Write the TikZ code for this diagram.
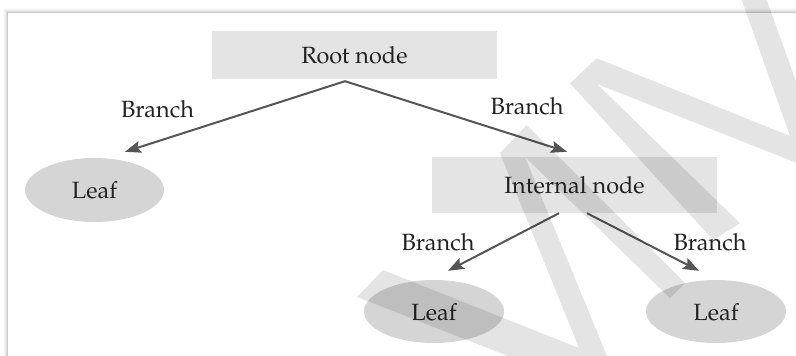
\documentclass[tikz,border=0pt]{standalone}
\usepackage{fontspec}
\setmainfont{TeX Gyre Pagella}
\usetikzlibrary{arrows.meta,shapes.geometric}
\definecolor{boxfill}{HTML}{E4E4E4}
\definecolor{leaffill}{HTML}{D5D5D5}
\definecolor{edgecol}{HTML}{555555}
\definecolor{inkcol}{HTML}{222222}
\begin{document}
\begin{tikzpicture}[x=1pt,y=-1pt,
  every node/.style={text=inkcol, font=\fontsize{23.5}{28}\selectfont,
    inner sep=0pt, text height=17pt, text depth=0pt},
  box/.style={rectangle, fill=boxfill, minimum width=285pt},
  leaf/.style={ellipse, fill=leaffill, minimum width=140pt, minimum height=63pt},
  edge/.style={draw=edgecol, line width=2pt,
    -{Stealth[length=16pt,width=12pt,inset=3pt]}},
  branchlabel/.style={anchor=base},
  mark band/.style={fill=black, fill opacity=0.105}]
\useasboundingbox (0,0) rectangle (796,356);

% soft shadow along the top and left edges of the panel
\foreach \k/\o in {0/0.20,1/0.13,2/0.08,3/0.045,4/0.02}
  \draw[line width=1pt, black, opacity=\o]
    ({7.5-\k},357) -- ({7.5-\k},{12.5-\k}) -- (797,{12.5-\k});

% tree nodes
\node[box, minimum height=48pt] (root) at (354.5,55) {Root node};
\node[leaf, minimum width=139pt, minimum height=64pt] (leafA) at (94.5,190) {Leaf};
\node[box, minimum height=56pt] (inner) at (574.5,185) {Internal node};
\node[leaf] (leafB) at (434,311.5) {Leaf};
\node[leaf] (leafC) at (716,311.5) {Leaf};

% where the connectors leave and arrive
\coordinate (fork) at ([xshift=-9.5pt,yshift=-2pt]root.south);
\coordinate (tipA) at ([xshift=30.5pt,yshift=6pt]leafA.north);
\coordinate (tipI) at ([xshift=-7.5pt,yshift=5pt]inner.north);
\coordinate (outB) at ([xshift=-15.5pt]inner.south);
\coordinate (outC) at ([xshift=12.5pt]inner.south);
\coordinate (tipB) at ([xshift=14pt,yshift=9pt]leafB.north);
\coordinate (tipC) at ([xshift=-17pt,yshift=9pt]leafC.north);

\draw[edge] (fork) -- (tipA);
\draw[edge] (fork) -- (tipI);
\draw[edge] (outB) -- (tipB);
\draw[edge] (outC) -- (tipC);

% branch labels
\node[branchlabel] (lbA) at (157.5,117.3) {Branch};
\node[branchlabel] (lbI) at (527,114) {Branch};
\node[branchlabel] (lbB) at (438,250.7) {Branch};
\node[branchlabel] (lbC) at (710,250.7) {Branch};

% translucent zigzag bands over the drawing
\begin{scope}
  \clip (0,0) rectangle (796,356);
  \fill[mark band] (357,297) -- (383,270) -- (579,348) -- (500,153)
    -- (526.7,125) -- (685,283) -- (670,298) -- (525,157) -- (626,402) -- cycle;
  \fill[mark band] (740,-5) -- (790,136) -- (596.7,58.3) -- (570,83.3)
    -- (713.3,240) -- (740,223.3) -- (597,84) -- (830,176) -- (764.9,-5) -- cycle;
\end{scope}
\end{tikzpicture}
\end{document}
